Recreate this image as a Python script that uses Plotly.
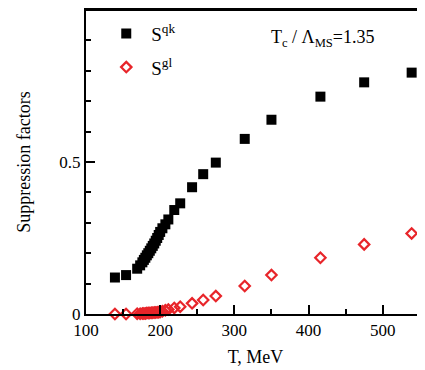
import plotly.graph_objects as go

T_mev = [139, 154, 169, 173, 176, 178, 180, 182, 184, 186, 188, 190, 192, 194, 196,
         198, 200, 203, 207, 211, 219, 227, 243, 258, 275, 314, 350, 416, 475, 539]
S_qk = [0.120, 0.128, 0.149, 0.160, 0.170, 0.178, 0.185, 0.193, 0.200, 0.208, 0.216,
        0.224, 0.232, 0.241, 0.250, 0.260, 0.270, 0.282, 0.295, 0.311, 0.342, 0.364,
        0.417, 0.460, 0.498, 0.576, 0.639, 0.715, 0.762, 0.794]
S_gl = [0.000, 0.000, 0.001, 0.001, 0.002, 0.002, 0.002, 0.003, 0.003, 0.003, 0.004,
        0.004, 0.005, 0.005, 0.006, 0.006, 0.007, 0.009, 0.012, 0.015, 0.020, 0.024,
        0.035, 0.046, 0.059, 0.092, 0.128, 0.185, 0.229, 0.265]

x_major = [100, 200, 300, 400, 500]
x_minor = [150, 250, 350, 450, 550]
y_major = [0, 0.5, 1.0]
y_major_labels = ["0", "0.5", "1.0"]
y_minor = [0.1, 0.2, 0.3, 0.4, 0.6, 0.7, 0.8, 0.9]

X_RANGE = [100, 557]
Y_RANGE = [0, 1.0]

FONT = "Liberation Serif"
RED = "#e8252a"

fig = go.Figure()
fig.add_trace(go.Scatter(
    x=T_mev, y=S_qk, mode="markers", name="S<sup>qk</sup>", legendgroup="a",
    marker=dict(symbol="square", size=10, color="black", line=dict(width=0)),
    cliponaxis=False,
))
fig.add_trace(go.Scatter(
    x=T_mev, y=S_gl, mode="markers", name="S<sup>gl</sup>", legendgroup="b",
    marker=dict(symbol="diamond-open", size=8, color=RED, line=dict(width=2.2, color=RED)),
    cliponaxis=False,
))

tick_common = dict(ticks="inside", ticklen=9, tickwidth=2, tickcolor="black",
                   showline=True, linecolor="black", linewidth=2,
                   showgrid=False, zeroline=False,
                   tickfont=dict(size=17, family=FONT, color="black"))
minor_common = dict(ticks="inside", ticklen=5, tickwidth=2, tickcolor="black",
                    showline=False, showgrid=False, zeroline=False, showticklabels=False)

# page body has an 8px offset; size/margins compensate so the plot area sits at x 86..425, y 10..314
fig.update_layout(
    width=417, height=362,
    margin=dict(l=78, r=0, t=2, b=56),
    plot_bgcolor="white", paper_bgcolor="white",
    font=dict(family=FONT, size=16, color="black"),
    showlegend=True,
    legend=dict(x=0.045, y=0.985, xanchor="left", yanchor="top", traceorder="grouped",
                bgcolor="rgba(0,0,0,0)", font=dict(size=19, family=FONT),
                itemwidth=40, tracegroupgap=6),
    xaxis=dict(range=X_RANGE, tickmode="array", tickvals=x_major, mirror=True,
               title=dict(text="T, MeV", font=dict(size=18, family=FONT), standoff=11),
               **tick_common),
    yaxis=dict(range=Y_RANGE, tickmode="array", tickvals=y_major, ticktext=y_major_labels,
               title=dict(text="Suppression factors", font=dict(size=18, family=FONT), standoff=24),
               **tick_common),
    xaxis2=dict(range=X_RANGE, overlaying="x", side="bottom", anchor="y",
                tickmode="array", tickvals=x_minor, **minor_common),
    yaxis2=dict(range=Y_RANGE, overlaying="y", side="left", anchor="x",
                tickmode="array", tickvals=y_minor, **minor_common),
    annotations=[dict(text="T<sub>c</sub> / Λ<sub>MS</sub>=1.35", x=0.70, y=0.905,
                      xanchor="center", yanchor="middle",
                      xref="paper", yref="paper", showarrow=False, font=dict(size=18, family=FONT))],
    shapes=[dict(type="line", xref="paper", yref="paper", x0=0, x1=1, y0=1, y1=1,
                 line=dict(color="black", width=2))],
)
# empty trace to activate the minor-tick axes
fig.add_trace(go.Scatter(x=[], y=[], xaxis="x2", yaxis="y2", showlegend=False, hoverinfo="skip"))

fig.write_html("out.html")
